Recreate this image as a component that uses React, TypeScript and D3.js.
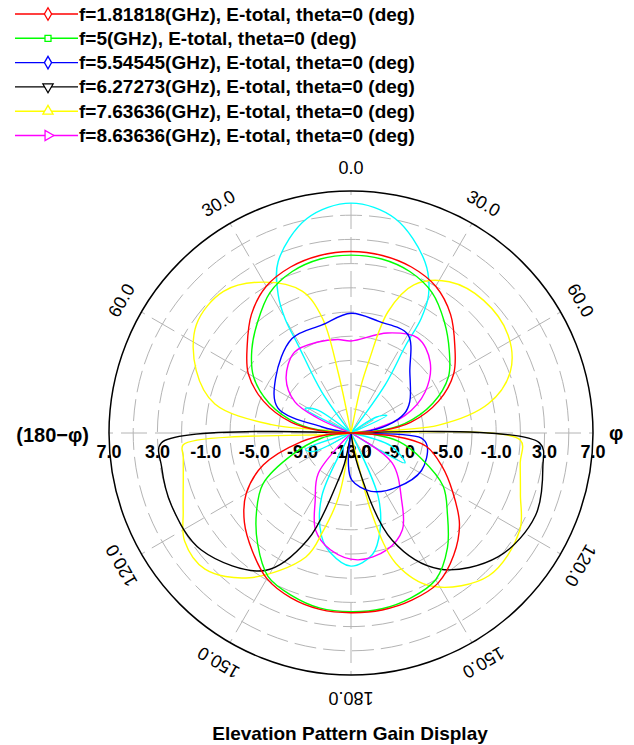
import React, { useEffect, useRef } from 'react';
import * as d3 from 'd3';

// gain (dB) against display angle (deg, clockwise from top)
const red: [number, number][] = [[0,2.0],[10,1.9],[20,1.6],[30,1.0],[40,-0.2],[50,-1.8],[60,-3.2],[70,-5.3],[80,-8.0],[86,-10.5],[90,-20],[94,-9.5],[100,-6.7],[110,-5.0],[120,-3.3],[130,-1.3],[140,0.2],[150,1.35],[160,1.7],[170,1.85],[180,1.85],[190,1.8],[200,1.5],[210,0.9],[220,-0.3],[230,-1.5],[240,-3.0],[250,-5.3],[260,-8.8],[266,-11],[270,-20],[274,-10.5],[280,-8.0],[290,-5.3],[300,-3.2],[310,-1.8],[320,-0.2],[330,1.0],[340,1.6],[350,1.9]];
const green: [number, number][] = [[0,1.7],[10,1.6],[20,1.2],[30,0.4],[40,-1.0],[50,-2.4],[60,-3.7],[70,-5.8],[80,-8.5],[86,-11],[90,-20],[94,-11],[100,-9.0],[110,-6.8],[120,-4.2],[130,-2.6],[140,-0.6],[150,1.0],[160,1.5],[170,1.75],[180,1.77],[190,1.7],[200,1.3],[210,0.7],[220,-1.0],[230,-2.8],[240,-4.6],[250,-7.9],[260,-10.5],[266,-12],[270,-20],[274,-11],[280,-8.5],[290,-5.8],[300,-3.7],[310,-2.3],[320,-1.0],[330,0.4],[340,1.2],[350,1.6]];
const blue: [number, number][] = [[0,-3.1],[14,-3.5],[30,-3.6],[44,-6.0],[62,-7.5],[70,-8.3],[78,-9.9],[86,-12],[90,-20],[94,-7.2],[100,-6.6],[118,-6.4],[139,-7.1],[161,-7.9],[179,-9.1],[185,-10.5],[192,-20],[276,-20],[282,-10.5],[289,-6.6],[306,-5.3],[328,-3.8],[345,-3.75]];
const black: [number, number][] = [[0,-20],[88,-20],[90,-20],[93,2.6],[100,3.1],[114,3.7],[130,2.9],[147,0.4],[159,-3.5],[168,-10.1],[172,-20],[188,-20],[192,-10.4],[195,-9],[202,-3.5],[212,0.4],[232,2.7],[248,3.0],[260,2.9],[267,2.7],[270,-20]];
const yellow: [number, number][] = [[0,-20],[9,-20],[12,-9],[14,-6.8],[17,-2.5],[23,0.3],[33,1.9],[45,2.5],[58,2.3],[69,1.1],[78,-1.4],[85,-5.8],[90,-20],[92.4,1.0],[100,1.2],[110,1.9],[120,3.1],[136,3.4],[152,1.35],[161,-1.6],[165.5,-6.1],[167,-10.5],[169,-20],[189,-20],[191,-7.6],[196,-4.5],[200,-2.1],[215,1.6],[227,3.5],[237,3.4],[245,2.3],[255,1.35],[262,1.0],[266,0.9],[270,-20],[276,-6.4],[282,-1.5],[292,0.8],[305,2.6],[318,2.75],[330,1.4],[341,-0.6],[346,-3.2],[348,-7.8],[351,-20]];
const magenta: [number, number][] = [[0,-5.4],[20,-4.2],[35,-3.4],[48,-4.2],[61,-6.0],[72,-8.3],[80,-11],[86,-20],[120,-20],[126,-8.8],[143,-6.05],[152,-3.95],[163,-2.9],[177,-2.5],[190,-3.2],[200,-4.45],[208,-6.7],[219,-8.7],[226,-20],[290,-20],[294,-10],[299,-7.7],[310,-6.0],[325,-4.85],[340,-5.0],[352,-5.2]];
// extra trace that is plotted but not listed in the legend
const cyan: [number, number][] = [[0,6.0],[11.6,5.1],[23.4,2.4],[29.3,0.1],[31.5,-1.9],[32,-4.5],[35.3,-8.1],[39,-20],[52,-20],[58,-10.5],[64,-9.7],[70,-20],[100,-20],[108,-9.5],[119,-7.9],[126,-20],[150,-20],[156.8,-7.3],[163.4,-4.6],[170,-2.8],[180,-2.0],[190,-3.0],[195.8,-4.1],[204.7,-7.2],[210,-20],[238,-20],[244,-9.5],[250,-9],[256,-20],[290,-20],[298,-8.7],[304,-9.5],[312,-20],[321,-20],[324.6,-8.8],[329,-4.5],[330,-2.1],[332.2,-0.1],[337,2.4],[348.4,5.1]];

const seriesData = [red, green, blue, black, yellow, magenta];
const seriesNames = [
  'f=1.81818(GHz), E-total, theta=0 (deg)',
  'f=5(GHz), E-total, theta=0 (deg)',
  'f=5.54545(GHz), E-total, theta=0 (deg)',
  'f=6.27273(GHz), E-total, theta=0 (deg)',
  'f=7.63636(GHz), E-total, theta=0 (deg)',
  'f=8.63636(GHz), E-total, theta=0 (deg)',
];
const seriesColors = ['#ff0000', '#00ff00', '#0000ff', '#000000', '#ffff00', '#ff00ff'];
const seriesMarkers = ['diamond', 'square', 'diamond', 'down', 'up', 'right'];

const radialTicks = [7, 3, -1, -5, -9, -13];
const angleTicks = [0, 30, 60, 120, 150, 180, -30, -60, -120, -150];
const angleLabels = ['0.0', '30.0', '60.0', '120.0', '150.0', '180.0', '30.0', '60.0', '120.0', '150.0'];

export default function App() {
  const ref = useRef<SVGSVGElement>(null);
  const width = 634;
  const height = 745;
  const cx = 351, cy = 433, R = 242;

  useEffect(() => {
    const svg = d3.select(ref.current);
    svg.selectAll('*').remove();
    const font = "'Liberation Sans', Arial, sans-serif";
    const toRad = (a: number) => a * Math.PI / 180;

    const rScale = d3.scaleLinear().domain([-13, 7]).range([0, R]).clamp(true);

    const plot = svg.append('g').attr('transform', `translate(${cx},${cy})`);

    // ---- grid ----
    plot.append('g')
      .selectAll('circle')
      .data(d3.range(-11, 7, 2))
      .join('circle')
      .attr('r', d => rScale(d))
      .attr('fill', 'none')
      .attr('stroke', '#b4b4b4')
      .attr('stroke-dasharray', '22,7');

    plot.append('g')
      .selectAll('line')
      .data(d3.range(0, 360, 30))
      .join('line')
      .attr('x1', 0).attr('y1', 0)
      .attr('x2', d => R * Math.sin(toRad(d)))
      .attr('y2', d => -R * Math.cos(toRad(d)))
      .attr('stroke', '#b4b4b4')
      .attr('stroke-dasharray', '26,8');

    plot.append('circle')
      .attr('r', R)
      .attr('fill', 'none')
      .attr('stroke', '#000')
      .attr('stroke-width', 1.5);

    // ---- radial tick labels (both sides of the horizontal axis) ----
    plot.append('g')
      .selectAll('text')
      .data([...radialTicks.map(v => -rScale(v)), ...radialTicks.map(v => rScale(v))])
      .join('text')
      .attr('x', d => d)
      .attr('y', 19)
      .attr('text-anchor', 'middle')
      .attr('dominant-baseline', 'central')
      .attr('font-family', font)
      .attr('font-weight', 'bold')
      .attr('font-size', 18)
      .text((d, i) => radialTicks[i % radialTicks.length].toFixed(1));

    // ---- angle labels ----
    const labR = 265;
    plot.append('g')
      .selectAll('text')
      .data(angleTicks)
      .join('text')
      .attr('transform', d => `translate(${labR * Math.sin(toRad(d))},${-labR * Math.cos(toRad(d))}) rotate(${d})`)
      .attr('text-anchor', 'middle')
      .attr('dominant-baseline', 'central')
      .attr('font-family', font)
      .attr('font-size', 18)
      .text((d, i) => angleLabels[i]);

    svg.append('text')
      .attr('x', 89).attr('y', 435)
      .attr('text-anchor', 'end')
      .attr('dominant-baseline', 'central')
      .attr('font-family', font).attr('font-weight', 'bold').attr('font-size', 20)
      .text('(180\u2212\u03c6)');
    svg.append('text')
      .attr('x', 609).attr('y', 433)
      .attr('dominant-baseline', 'central')
      .attr('font-family', font).attr('font-weight', 'bold').attr('font-size', 20)
      .text('\u03c6');

    // ---- traces ----
    const line = d3.lineRadial<[number, number]>()
      .angle(d => toRad(d[0]))
      .radius(d => rScale(d[1]))
      .curve(d3.curveCatmullRomClosed.alpha(0.5));

    const traces = [
      { data: cyan, color: '#00ffff' },
      ...seriesData.map((d, i) => ({ data: d, color: seriesColors[i] })).reverse(),
    ];
    plot.append('g')
      .selectAll('path')
      .data(traces)
      .join('path')
      .attr('d', d => line(d.data))
      .attr('fill', 'none')
      .attr('stroke', d => d.color)
      .attr('stroke-width', 1.4);

    // ---- legend ----
    const legend = svg.append('g');
    const rowY = (i: number) => 14 + i * 24.3;
    legend.selectAll('line')
      .data(seriesNames)
      .join('line')
      .attr('x1', 15).attr('x2', 78)
      .attr('y1', (d, i) => rowY(i)).attr('y2', (d, i) => rowY(i))
      .attr('stroke', (d, i) => seriesColors[i])
      .attr('stroke-width', 1.4);

    const symbolType = (m: string) => m === 'diamond' ? d3.symbolDiamond : m === 'square' ? d3.symbolSquare : d3.symbolTriangle;
    const symbolRot = (m: string) => m === 'down' ? 180 : m === 'right' ? 90 : 0;
    legend.selectAll('path')
      .data(seriesMarkers)
      .join('path')
      .attr('d', m => d3.symbol().type(symbolType(m)).size(m === 'square' ? 36 : 45)())
      .attr('transform', (m, i) => `translate(48,${rowY(i)}) rotate(${symbolRot(m)})`)
      .attr('fill', '#fff')
      .attr('stroke', (m, i) => seriesColors[i])
      .attr('stroke-width', 1.3);

    legend.selectAll('text')
      .data(seriesNames)
      .join('text')
      .attr('x', 79)
      .attr('y', (d, i) => rowY(i))
      .attr('dominant-baseline', 'central')
      .attr('font-family', font)
      .attr('font-weight', 'bold')
      .attr('font-size', 19)
      .text(d => d);

    // ---- title ----
    svg.append('text')
      .attr('x', 350).attr('y', 733)
      .attr('text-anchor', 'middle')
      .attr('dominant-baseline', 'central')
      .attr('font-family', font)
      .attr('font-weight', 'bold')
      .attr('font-size', 19)
      .text('Elevation Pattern Gain Display');
  }, []);

  return (
    <svg ref={ref} width={width} height={height}
      style={{ position: 'absolute', left: 0, top: 0, background: '#fff' }} />
  );
}
